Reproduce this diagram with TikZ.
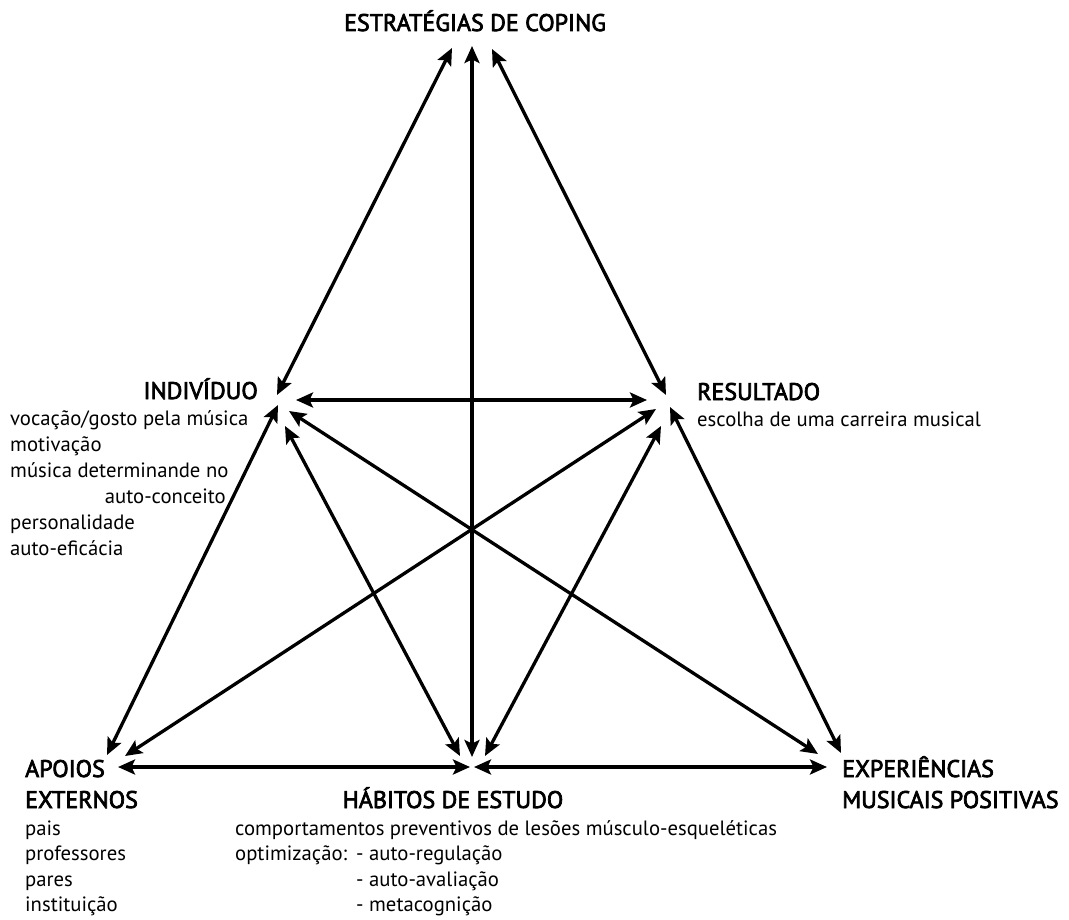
\documentclass[tikz,border=0pt]{standalone}
\usepackage{fontspec}
\setmainfont{PT Sans}
\newfontfamily\hfont[FakeBold=3]{PT Sans}
\usetikzlibrary{arrows.meta}
\begin{document}
\begin{tikzpicture}[x=1pt,y=-1pt,
  tipshape/.tip={Stealth[length=17pt,width=15pt,inset=3.5pt]},
  link/.style={line width=3.3pt,{tipshape}-{tipshape}},
  head/.style={inner sep=0pt,font=\hfont\fontsize{24}{28}\selectfont},
  body/.style={inner sep=0pt,font=\fontsize{20.7}{26}\selectfont}]
\useasboundingbox (0,0) rectangle (1069,920);
% texts
\node[head,anchor=base] (coping) at (475,31) {ESTRATÉGIAS DE COPING};
\node[head,anchor=base east] (indiv) at (258,399) {INDIVÍDUO};
\node[body,anchor=base west] (i1) at (10,425) {vocação/gosto pela música};
\node[body,anchor=base west] (i2) at (10,451) {motivação};
\node[body,anchor=base west] (i3) at (10,477) {música determinande no};
\node[body,anchor=base east] (i4) at (226,503) {auto-conceito};
\node[body,anchor=base west] (i5) at (10,529) {personalidade};
\node[body,anchor=base west] (i6) at (10,555) {auto-eficácia};
\node[head,anchor=base west] (resul) at (697,400) {RESULTADO};
\node[body,anchor=base west] (r1) at (697,426) {escolha de uma carreira musical};
\node[head,anchor=base west] (apoios) at (25,777) {APOIOS};
\node[head,anchor=base west] (apoios2) at (25,808) {EXTERNOS};
\node[body,anchor=base west] (a1) at (25,835) {pais};
\node[body,anchor=base west] (a2) at (25,860) {professores};
\node[body,anchor=base west] (a3) at (25,886) {pares};
\node[body,anchor=base west] (a4) at (25,911) {instituição};
\node[head,anchor=base west] (exper) at (842,777) {EXPERIÊNCIAS};
\node[head,anchor=base west] (exper2) at (842,808) {MUSICAIS POSITIVAS};
\node[head,anchor=base] (habit) at (453,808) {HÁBITOS DE ESTUDO};
\node[body,anchor=base west] (h1) at (235,835) {comportamentos preventivos de lesões músculo-esqueléticas};
\node[body,anchor=base west] (h2) at (235,860) {optimização:};
\node[body,anchor=base west] (h3) at (356,860) {- auto-regulação};
\node[body,anchor=base west] (h4) at (356,886) {- auto-avaliação};
\node[body,anchor=base west] (h5) at (356,911) {- metacognição};
% arrow end points
\coordinate (cL) at (452,48);
\coordinate (cM) at (472,46);
\coordinate (cR) at (492,49);
\coordinate (iT) at (277,395);
\coordinate (iH) at (296,400);
\coordinate (iA) at (278,405);
\coordinate (iE) at (289,411);
\coordinate (iB) at (285,426);
\coordinate (rT) at (666,395);
\coordinate (rH) at (647,400);
\coordinate (rA) at (656,409);
\coordinate (rE) at (670,407);
\coordinate (rB) at (661,426);
\coordinate (aI) at (107,755);
\coordinate (aR) at (125,756);
\coordinate (aH) at (118,767);
\coordinate (bT) at (472,757);
\coordinate (bI) at (460,756);
\coordinate (bR) at (485,756);
\coordinate (bL) at (470,767);
\coordinate (bE) at (474,767);
\coordinate (eI) at (818,754);
\coordinate (eR) at (841,753);
\coordinate (eH) at (827,767);
% connectors
\draw[link] (cL) -- (iT);
\draw[link] (cM) -- (bT);
\draw[link] (cR) -- (rT);
\draw[link] (iA) -- (aI);
\draw[link] (rE) -- (eR);
\draw[link] (iH) -- (rH);
\draw[link] (aH) -- (bL);
\draw[link] (bE) -- (eH);
\draw[link] (iE) -- (eI);
\draw[link] (rA) -- (aR);
\draw[link] (iB) -- (bI);
\draw[link] (rB) -- (bR);
\end{tikzpicture}
\end{document}
